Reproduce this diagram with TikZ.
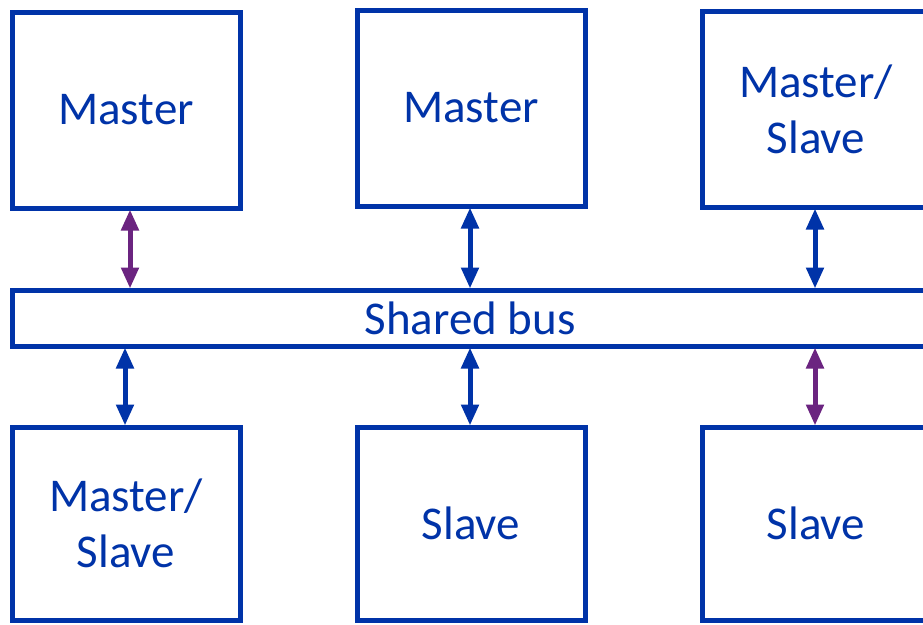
\documentclass[tikz,border=0pt]{standalone}
\usepackage{fontspec}
\setmainfont{Carlito}
\usetikzlibrary{arrows.meta}
\definecolor{busblue}{HTML}{0033A8}
\definecolor{buspurple}{HTML}{6B2480}
\begin{document}
\begin{tikzpicture}[x=1pt,y=-1pt,
  unit/.style={draw=busblue, line width=5pt, text=busblue,
    minimum width=228pt, minimum height=196pt, inner sep=0pt,
    align=center, font=\fontsize{47}{56}\selectfont},
  link/.style={line width=5pt, {Triangle[width=17pt,length=21pt]}-{Triangle[width=17pt,length=21pt]}, shorten <=-1pt, shorten >=-1pt},
  bluelink/.style={link, draw=busblue, fill=busblue},
  purplelink/.style={link, draw=buspurple, fill=buspurple}]
  \useasboundingbox (0,0) rectangle (923,624);
  \fill[white] (0,0) rectangle (923,624);

  % upper row
  \node[unit] (m1) at (126,110) {Master};
  \node[unit] (m2) at (471,108) {Master};
  \node[unit] (ms1) at (816,109) {Master/\\Slave};

  % the bus
  \node[unit, minimum width=916pt, minimum height=56pt] (bus) at (470,318) {Shared bus};

  % lower row
  \node[unit, minimum height=193pt] (ms2) at (126,523.5) {Master/\\Slave};
  \node[unit, minimum height=193pt] (s1) at (471,523.5) {Slave};
  \node[unit, minimum height=193pt] (s2) at (816,523.5) {Slave};

  % connections to the bus
  \draw[purplelink] ([xshift=4pt]m1.south) -- ([xshift=4pt]m1.south |- bus.north);
  \draw[bluelink] ([xshift=-1pt]m2.south) -- ([xshift=-1pt]m2.south |- bus.north);
  \draw[bluelink] ([xshift=-1pt]ms1.south) -- ([xshift=-1pt]ms1.south |- bus.north);
  \draw[bluelink] ([xshift=-1pt]ms2.north |- bus.south) -- ([xshift=-1pt]ms2.north);
  \draw[bluelink] ([xshift=-1pt]s1.north |- bus.south) -- ([xshift=-1pt]s1.north);
  \draw[purplelink] ([xshift=-1pt]s2.north |- bus.south) -- ([xshift=-1pt]s2.north);
\end{tikzpicture}
\end{document}
